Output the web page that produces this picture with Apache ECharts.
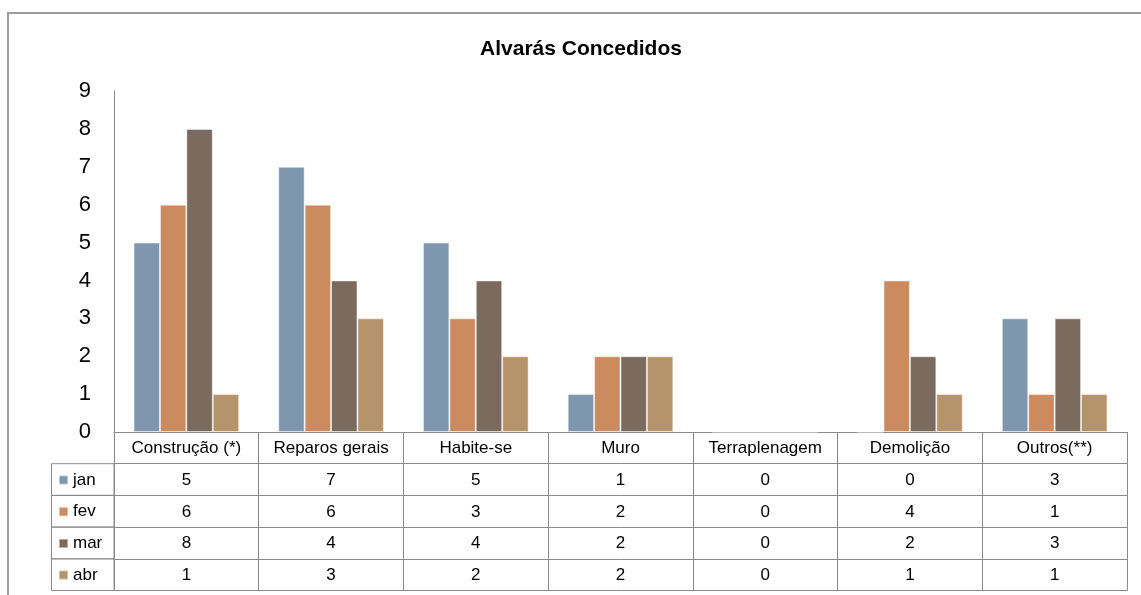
<!DOCTYPE html>
<html>
<head>
<meta charset="utf-8">
<script src="https://cdn.jsdelivr.net/npm/echarts@6/dist/echarts.min.js"></script>
<style>
  html, body { margin: 0; padding: 0; background: #fff; }
  #chart { width: 1141px; height: 595px; }
</style>
</head>
<body>
<div id="chart"></div>
<script>
const categories = ['Construção (*)', 'Reparos gerais', 'Habite-se', 'Muro', 'Terraplenagem', 'Demolição', 'Outros(**)']
const months = ['jan', 'fev', 'mar', 'abr']
const jan = [5, 7, 5, 1, 0, 0, 3]
const fev = [6, 6, 3, 2, 0, 4, 1]
const mar = [8, 4, 4, 2, 0, 2, 3]
const abr = [1, 3, 2, 2, 0, 1, 1]
const yTicks = [0, 1, 2, 3, 4, 5, 6, 7, 8, 9]

const rows = [jan, fev, mar, abr]
const colors = ['#7f97ae', '#cc8b5e', '#7b6a5e', '#b5936b']
const font = "'Liberation Sans Narrow', 'Liberation Sans', sans-serif"
const lineColor = '#8a8a8a'
const rowH = 31.7

const chart = echarts.init(document.getElementById('chart'))

// one x axis per table row, pushed down by offset
const xAxes = [{
  type: 'category',
  data: categories,
  position: 'bottom',
  axisLine: { show: true, lineStyle: { color: lineColor } },
  axisTick: { show: true, length: rowH, lineStyle: { color: lineColor } },
  axisLabel: { color: '#000', fontSize: 17, fontFamily: font, margin: 8, interval: 0 }
}]
rows.forEach((vals, r) => {
  xAxes.push({
    type: 'category',
    data: categories,
    position: 'bottom',
    offset: rowH * (r + 1),
    axisLine: { show: true, lineStyle: { color: lineColor } },
    axisTick: { show: true, length: rowH, lineStyle: { color: lineColor } },
    axisLabel: {
      color: '#000', fontSize: 17, fontFamily: font, margin: 8, interval: 0,
      formatter: (v, i) => String(vals[i])
    }
  })
})
// bottom border of table
xAxes.push({
  type: 'category',
  data: categories,
  position: 'bottom',
  offset: rowH * 5,
  axisLine: { show: true, lineStyle: { color: lineColor } },
  axisTick: { show: false },
  axisLabel: { show: false }
})

const option = {
  backgroundColor: '#ffffff',
  animation: false,
  title: {
    text: 'Alvarás Concedidos',
    left: 581,
    textAlign: 'center',
    top: 39,
    padding: 0,
    textStyle: { fontSize: 21, fontWeight: 'bold', fontFamily: "'Liberation Sans', sans-serif", color: '#000' }
  },
  legend: {
    orient: 'vertical',
    left: 58,
    top: 470,
    padding: 0,
    itemWidth: 9,
    itemHeight: 9,
    itemGap: rowH - 20,
    icon: 'rect',
    textStyle: { fontSize: 17, fontFamily: font, color: '#000', lineHeight: 20 },
    data: months
  },
  grid: { left: 114, right: 14, top: 91, bottom: 163, containLabel: false },
  xAxis: xAxes,
  yAxis: {
    type: 'value',
    min: 0,
    max: 9,
    interval: 1,
    axisLine: { show: true, lineStyle: { color: lineColor } },
    axisTick: { show: false },
    splitLine: { show: false },
    axisLabel: {
      color: '#000', fontSize: 22, fontFamily: "'Liberation Sans', sans-serif", margin: 23,
      formatter: v => yTicks.includes(v) ? String(v) : ''
    }
  },
  graphic: [
    {
      type: 'rect',
      shape: { x: 8, y: 13, width: 1200, height: 700 },
      style: { fill: 'none', stroke: '#9c9c9c', lineWidth: 2 },
      silent: true
    },
    {
      type: 'group',
      silent: true,
      children: [0, 1, 2, 3].map(r => ({
        type: 'rect',
        shape: { x: 51.5, y: 432 + rowH * (r + 1), width: 62.5, height: rowH },
        style: { fill: 'none', stroke: lineColor, lineWidth: 1 }
      }))
    }
  ],
  series: rows.map((vals, r) => ({
    name: months[r],
    type: 'bar',
    data: vals,
    barGap: '0%',
    barCategoryGap: '27%',
    itemStyle: { color: colors[r], borderColor: 'rgba(255,255,255,0.45)', borderWidth: 1 }
  }))
}

chart.setOption(option)
</script>
</body>
</html>
